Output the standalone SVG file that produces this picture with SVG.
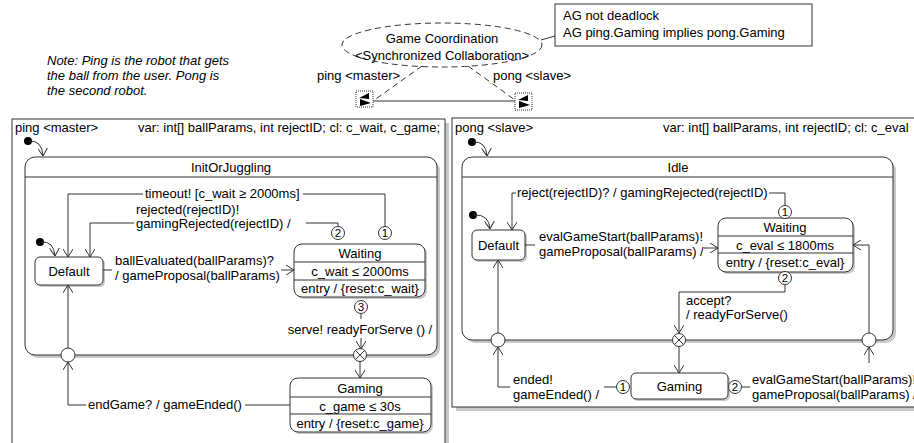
<svg xmlns="http://www.w3.org/2000/svg" width="914" height="443" viewBox="0 0 914 443">
<defs>
<style>
.t{font-family:"Liberation Sans",Arial,sans-serif;font-size:13px;fill:#000}
.m{text-anchor:middle}
.i{font-style:italic}
.n{font-family:"Liberation Sans",Arial,sans-serif;font-size:11.5px;fill:#000;text-anchor:middle}
.ln{fill:none;stroke:#333;stroke-width:1}
.st{fill:#fff;stroke:#333;stroke-width:1}
.sh{fill:#c8c8c8;stroke:none}
.num{fill:#fff;stroke:#333;stroke-width:1}
</style>
<marker id="a" viewBox="0 0 8 10" refX="8" refY="5" markerWidth="8" markerHeight="10" orient="auto" markerUnits="userSpaceOnUse">
<path d="M0,0 L8,5 L0,10" fill="none" stroke="#333" stroke-width="1"/>
</marker>
</defs>
<rect width="914" height="443" fill="#fff"/>

<!-- top collaboration -->
<g id="collab">
<ellipse cx="442" cy="45" rx="100" ry="22" fill="none" stroke="#333" stroke-dasharray="6,4"/>
<text class="t m" x="442" y="43">Game Coordination</text>
<text class="t m" x="442" y="60">&lt;Synchronized Collaboration&gt;</text>
</g>
<g id="constraints">
<rect x="555" y="4" width="257" height="42" class="st"/>
<text class="t" x="563" y="20">AG not deadlock</text>
<text class="t" x="563" y="37">AG ping.Gaming implies pong.Gaming</text>
</g>
<g id="note">
<text class="t i" x="47" y="65">Note: Ping is the robot that gets</text>
<text class="t i" x="47" y="80">the ball from the user. Pong is</text>
<text class="t i" x="47" y="95">the second robot.</text>
</g>
<g id="port-ping">
<rect x="356" y="91" width="17" height="16" fill="#fff" stroke="#333" stroke-dasharray="1,1"/>
<polygon points="359,98 369,93 369,99" fill="#000"/>
<polygon points="360,99 371,103 360,106" fill="#000"/>
<text class="t" x="317" y="80">ping &lt;master&gt;</text>
</g>
<g id="port-pong">
<rect x="515" y="93" width="17" height="17" fill="#fff" stroke="#333" stroke-dasharray="1,1"/>
<polygon points="518,100 528,95 528,101" fill="#000"/>
<polygon points="519,101 530,105 519,108" fill="#000"/>
<text class="t" x="493" y="80">pong &lt;slave&gt;</text>
</g>

<!-- left panel -->
<g id="ping-panel">
<rect x="16" y="123" width="433" height="340" class="sh"/>
<rect x="12" y="119" width="433" height="340" class="st"/>
<text class="t" x="15" y="132">ping &lt;master&gt;</text>
<text class="t" x="440" y="132" text-anchor="end">var: int[] ballParams, int rejectID; cl: c_wait, c_game;</text>
<circle cx="28" cy="141" r="4" fill="#000"/>
</g>
<g id="InitOrJuggling">
<rect x="28" y="160" width="412" height="198" rx="10" class="sh"/>
<rect x="25" y="157" width="412" height="198" rx="10" class="st"/>
<line x1="25" y1="177" x2="437" y2="177" class="ln"/>
<text class="t m" x="231" y="172">InitOrJuggling</text>
<circle cx="40" cy="242" r="4" fill="#000"/>
</g>
<g id="ping-Default">
<rect x="37" y="259" width="68" height="28" rx="5" class="sh"/>
<rect x="35" y="257" width="68" height="28" rx="5" class="st"/>
<text class="t m" x="69" y="276">Default</text>
</g>
<g id="ping-Waiting">
<rect x="296" y="246" width="131" height="53" rx="8" class="sh"/>
<rect x="294" y="244" width="131" height="53" rx="8" class="st"/>
<line x1="294" y1="262" x2="425" y2="262" class="ln"/>
<line x1="294" y1="280" x2="425" y2="280" class="ln"/>
<text class="t m" x="360" y="258">Waiting</text>
<text class="t m" x="360" y="276">c_wait ≤ 2000ms</text>
<text class="t m" x="360" y="293">entry / {reset:c_wait}</text>
</g>
<g id="ping-Gaming">
<rect x="292" y="380" width="141" height="54" rx="8" class="sh"/>
<rect x="290" y="378" width="141" height="54" rx="8" class="st"/>
<line x1="290" y1="397" x2="431" y2="397" class="ln"/>
<line x1="290" y1="414" x2="431" y2="414" class="ln"/>
<text class="t m" x="360" y="393">Gaming</text>
<text class="t m" x="360" y="411">c_game ≤ 30s</text>
<text class="t m" x="360" y="428">entry / {reset:c_game}</text>
</g>

<!-- right panel -->
<g id="pong-panel">
<rect x="456" y="122" width="480" height="289" class="sh"/>
<rect x="452" y="118" width="480" height="289" class="st"/>
<text class="t" x="455" y="132">pong &lt;slave&gt;</text>
<text class="t" x="663" y="132">var: int[] ballParams, int rejectID; cl: c_eval</text>
<circle cx="472" cy="142" r="4" fill="#000"/>
</g>
<g id="Idle">
<rect x="465" y="160" width="431" height="183" rx="10" class="sh"/>
<rect x="462" y="157" width="431" height="183" rx="10" class="st"/>
<line x1="462" y1="177" x2="893" y2="177" class="ln"/>
<text class="t m" x="678" y="172">Idle</text>
<circle cx="473" cy="215" r="4" fill="#000"/>
</g>
<g id="pong-Default">
<rect x="474" y="232" width="53" height="30" rx="5" class="sh"/>
<rect x="472" y="230" width="53" height="30" rx="5" class="st"/>
<text class="t m" x="498.5" y="250">Default</text>
</g>
<g id="pong-Waiting">
<rect x="720" y="220" width="135" height="54" rx="8" class="sh"/>
<rect x="718" y="218" width="135" height="54" rx="8" class="st"/>
<line x1="718" y1="236" x2="853" y2="236" class="ln"/>
<line x1="718" y1="253" x2="853" y2="253" class="ln"/>
<text class="t m" x="785" y="232">Waiting</text>
<text class="t m" x="785" y="250">c_eval ≤ 1800ms</text>
<text class="t m" x="785" y="267">entry / {reset:c_eval}</text>
</g>
<g id="pong-Gaming">
<rect x="633" y="375" width="97" height="26" rx="5" class="sh"/>
<rect x="631" y="373" width="97" height="26" rx="5" class="st"/>
<text class="t m" x="679.5" y="391">Gaming</text>
</g>

<!-- connectors -->
<g id="connectors">
<line x1="373" y1="101" x2="515" y2="101" class="ln"/>
<line x1="541" y1="40" x2="555" y2="36" class="ln"/>
<line x1="422" y1="66" x2="373" y2="101" class="ln" stroke-dasharray="6,4"/>
<line x1="468" y1="66" x2="515" y2="100" class="ln" stroke-dasharray="6,4"/>

<!-- left -->
<path d="M29,141 Q42,140 43,156" class="ln" marker-end="url(#a)"/>
<path d="M41,242 Q54,241 55,256" class="ln" marker-end="url(#a)"/>
<path d="M385,226.5 V194 H303" class="ln"/>
<path d="M143,194 H68 V257" class="ln" marker-end="url(#a)"/>
<text class="t" x="145" y="198">timeout! [c_wait ≥ 2000ms]</text>
<path d="M338,226.5 V223 H306" class="ln"/>
<path d="M134,223 H90 V257" class="ln" marker-end="url(#a)"/>
<text class="t" x="136" y="214">rejected(rejectID)!</text>
<text class="t" x="136" y="228">gamingRejected(rejectID) /</text>
<line x1="103" y1="270" x2="112" y2="270" class="ln"/>
<text class="t" x="115" y="265">ballEvaluated(ballParams)?</text>
<text class="t" x="115" y="280">/ gameProposal(ballParams)</text>
<line x1="281" y1="270" x2="294" y2="270" class="ln" marker-end="url(#a)"/>
<line x1="361" y1="313.5" x2="361" y2="319" class="ln"/>
<text class="t m" x="360" y="334">serve! readyForServe () /</text>
<line x1="361" y1="338" x2="361" y2="349" class="ln" marker-end="url(#a)"/>
<line x1="360" y1="361" x2="360" y2="378" class="ln" marker-end="url(#a)"/>
<path d="M290,405 H245" class="ln"/>
<text class="t" x="88" y="409">endGame? / gameEnded()</text>
<path d="M86,405 H68 V362" class="ln" marker-end="url(#a)"/>
<line x1="68" y1="348" x2="68" y2="285" class="ln" marker-end="url(#a)"/>

<!-- right -->
<path d="M473,142 Q486,141 487,156" class="ln" marker-end="url(#a)"/>
<path d="M474,215 Q489,214 490,229" class="ln" marker-end="url(#a)"/>
<path d="M785,205.5 V193 H769" class="ln"/>
<path d="M516,193 H512 V230" class="ln" marker-end="url(#a)"/>
<text class="t" x="517" y="197">reject(rejectID)? / gamingRejected(rejectID)</text>
<line x1="525" y1="245" x2="535" y2="245" class="ln"/>
<text class="t" x="539" y="241">evalGameStart(ballParams)!</text>
<text class="t" x="539" y="256">gameProposal(ballParams) /</text>
<line x1="704" y1="248" x2="718" y2="248" class="ln" marker-end="url(#a)"/>
<path d="M869,333 V245 H853" class="ln" marker-end="url(#a)"/>
<path d="M785,284.5 V292 H679 V333" class="ln" marker-end="url(#a)"/>
<text class="t" x="686" y="305">accept?</text>
<text class="t" x="686" y="319">/ readyForServe()</text>
<line x1="679" y1="346" x2="679" y2="373" class="ln" marker-end="url(#a)"/>
<line x1="616.5" y1="387" x2="604" y2="387" class="ln"/>
<text class="t" x="513" y="384">ended!</text>
<text class="t" x="513" y="399">gameEnded() /</text>
<path d="M510,387 H498 V347" class="ln" marker-end="url(#a)"/>
<line x1="498" y1="333" x2="498" y2="260" class="ln" marker-end="url(#a)"/>
<line x1="741.5" y1="387" x2="750" y2="387" class="ln"/>
<text class="t" x="752" y="384">evalGameStart(ballParams)!</text>
<text class="t" x="752" y="399">gameProposal(ballParams) /</text>
<line x1="869" y1="363" x2="869" y2="347" class="ln" marker-end="url(#a)"/>
</g>

<!-- pseudo states -->
<g id="ping-entry"><circle cx="68" cy="355" r="7" class="num"/></g>
<g id="ping-exit"><circle cx="360" cy="355" r="6.5" class="num"/><path d="M355.4,350.4 L364.6,359.6 M364.6,350.4 L355.4,359.6" class="ln"/></g>
<g id="pong-entry1"><circle cx="498" cy="340" r="7" class="num"/></g>
<g id="pong-exit"><circle cx="679" cy="340" r="6.5" class="num"/><path d="M674.4,335.4 L683.6,344.6 M683.6,335.4 L674.4,344.6" class="ln"/></g>
<g id="pong-entry2"><circle cx="869" cy="340" r="7" class="num"/></g>

<!-- numbered ports -->
<g id="ping-w2"><circle cx="338" cy="233" r="6.5" class="num"/><text class="n" x="338" y="237">2</text></g>
<g id="ping-w1"><circle cx="385" cy="233" r="6.5" class="num"/><text class="n" x="385" y="237">1</text></g>
<g id="ping-w3"><circle cx="361" cy="307" r="6.5" class="num"/><text class="n" x="361" y="311">3</text></g>
<g id="pong-w1"><circle cx="785" cy="212" r="6.5" class="num"/><text class="n" x="785" y="216">1</text></g>
<g id="pong-w2"><circle cx="785" cy="278" r="6.5" class="num"/><text class="n" x="785" y="282">2</text></g>
<g id="pong-g1"><circle cx="623" cy="387" r="6.5" class="num"/><text class="n" x="623" y="391">1</text></g>
<g id="pong-g2"><circle cx="735" cy="387" r="6.5" class="num"/><text class="n" x="735" y="391">2</text></g>
</svg>
